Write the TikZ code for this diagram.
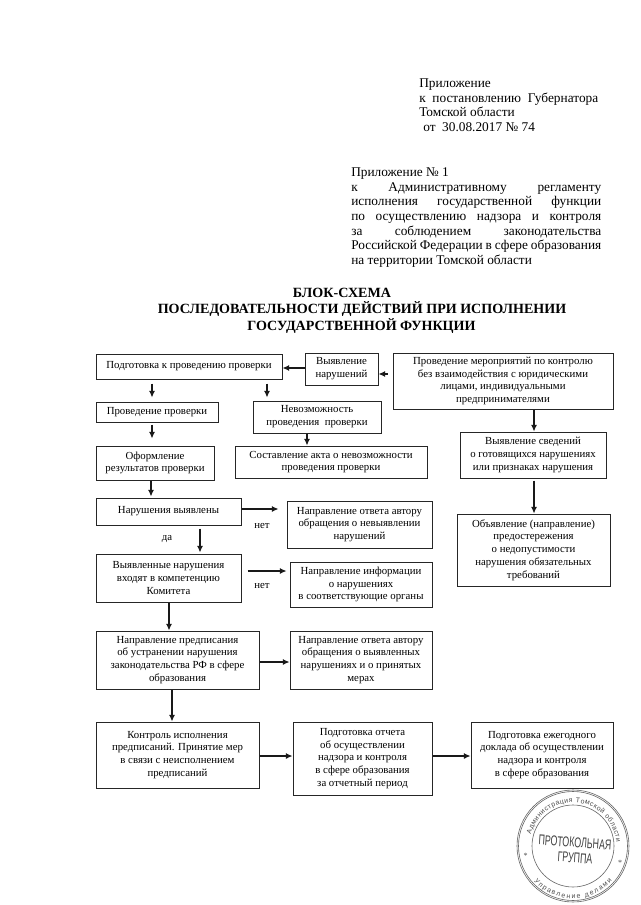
\documentclass[tikz,border=0pt]{standalone}
\usepackage{fontspec}
\usepackage{graphicx}
\setmainfont{Liberation Serif}
\setsansfont{Liberation Sans}
\usetikzlibrary{arrows.meta,decorations.text}
\tikzset{
  x=0.75pt,y=-0.75pt,
  flowbox/.style n args={2}{draw=black!85,line width=0.75pt,align=center,inner sep=0pt,
    minimum width=#1*0.75pt,minimum height=#2*0.75pt,
    font=\fontsize{8.1}{9.6}\selectfont},
  arr/.style={draw=black!90,line width=0.8pt,-{Latex[length=5pt,width=4.5pt]}},
  lbl/.style={inner sep=0pt,font=\fontsize{8.1}{9.6}\selectfont},
  head/.style={inner sep=0pt,anchor=base west,font=\fontsize{10}{12}\selectfont},
  just/.style={inner sep=0pt,anchor=base west,text width=250*0.75pt,font=\fontsize{10}{12}\selectfont},
  ttl/.style={inner sep=0pt,font=\bfseries\fontsize{10.55}{13}\selectfont},
  stampline/.style={draw=black!60,line width=0.45pt}
}
\begin{document}
\begin{tikzpicture}
\useasboundingbox[fill=white] (0,0) rectangle (640,905);
% header
\node[head] (h1) at (419,88) {Приложение};
\node[head] (h2) at (419,103) {к\ \ постановлению\ \ Губернатора};
\node[head] (h3) at (419,117) {Томской области};
\node[head] (h4) at (423,132) {от\ \ 30.08.2017 № 74};
\node[head] (a0) at (351,177) {Приложение № 1};
\node[just] (a1) at (351,192) {к\hfill Административному\hfill регламенту};
\node[just] (a2) at (351,206) {исполнения\hfill государственной\hfill функции};
\node[just] (a3) at (351,221) {по\hfill осуществлению\hfill надзора\hfill и\hfill контроля};
\node[just] (a4) at (351,236) {за\hfill соблюдением\hfill законодательства};
\node[just] (a5) at (351,250) {Российской\hfill Федерации\hfill в\hfill сфере\hfill образования};
\node[head] (a6) at (351,265) {на территории Томской области};
% title
\node[ttl] (t1) at (342,293) {БЛОК-СХЕМА};
\node[ttl] (t2) at (362,309.5) {ПОСЛЕДОВАТЕЛЬНОСТИ ДЕЙСТВИЙ ПРИ ИСПОЛНЕНИИ};
\node[ttl] (t3) at (361.5,326) {ГОСУДАРСТВЕННОЙ ФУНКЦИИ};
% boxes
\node[flowbox={186}{25}] (podg) at (189,366.5) {Подготовка к проведению проверки};
\node[flowbox={73}{32}] (vyav) at (341.5,369) {Выявление\\нарушений};
\node[flowbox={220}{56}] (mer) at (503,381) {Проведение мероприятий по контролю\\без взаимодействия с юридическими\\лицами, индивидуальными\\предпринимателями};
\node[flowbox={122}{20}] (prov) at (157,412) {Проведение проверки};
\node[flowbox={128}{32}] (nevoz) at (317,417) {Невозможность\\проведения\ \ проверки};
\node[flowbox={118}{34}] (oform) at (155,463) {Оформление\\результатов проверки};
\node[flowbox={192}{32}] (sost) at (331,462) {Составление акта о невозможности\\проведения проверки};
\node[flowbox={145}{27}] (nar) at (168.5,511.5) {\raisebox{2pt}{Нарушения выявлены}};
\node[flowbox={145}{47}] (otv1) at (359.5,524.5) {Направление ответа автору\\обращения о невыявлении\\нарушений};
\node[flowbox={145}{48}] (vyavl) at (168.5,578) {Выявленные нарушения\\входят в компетенцию\\Комитета};
\node[flowbox={142}{45}] (inf) at (361,584.5) {Направление информации\\о нарушениях\\в соответствующие органы};
\node[flowbox={163}{58}] (pred) at (177.5,660) {Направление предписания\\об устранении нарушения\\законодательства РФ в сфере\\образования};
\node[flowbox={142}{58}] (otv2) at (361,660) {Направление ответа автору\\обращения о выявленных\\нарушениях и о принятых\\мерах};
\node[flowbox={163}{66}] (kontr) at (177.5,755) {Контроль исполнения\\предписаний. Принятие мер\\в связи с неисполнением\\предписаний};
\node[flowbox={139}{73}] (otch) at (362.5,758.5) {Подготовка отчета\\об осуществлении\\надзора и контроля\\в сфере образования\\за отчетный период};
\node[flowbox={142}{66}] (ezh) at (542,755) {Подготовка ежегодного\\доклада об осуществлении\\надзора и контроля\\в сфере образования};
\node[flowbox={146}{46}] (sved) at (533,455) {Выявление сведений\\о готовящихся нарушениях\\или признаках нарушения};
\node[flowbox={153}{72}] (obv) at (533.5,550) {Объявление (направление)\\предостережения\\о недопустимости\\нарушения обязательных\\требований};
% labels
\node[lbl] (n1) at (262,526) {нет};
\node[lbl] (d1) at (167,539) {да};
\node[lbl] (n2) at (262,586) {нет};
% connectors
\draw[arr] ([shift={(0,-1)}]vyav.west) -- ([shift={(0,1.5)}]podg.east);
\draw[arr] ([shift={(-5,-7)}]mer.west) -- ([shift={(0,5)}]vyav.east);
\draw[arr] ([shift={(-37,4)}]podg.south) -- ([shift={(-5,-4)}]prov.north);
\draw[arr] ([shift={(78,4)}]podg.south) -- ([shift={(-50,-3)}]nevoz.north);
\draw[arr] ([shift={(-5,2)}]prov.south) -- ([shift={(-3,-7)}]oform.north);
\draw[arr] ([shift={(-10,0)}]nevoz.south) -- ([shift={(-24,0)}]sost.north);
\draw[arr] ([shift={(-4,0)}]oform.south) -- ([shift={(-17.5,-1)}]nar.north);
\draw[arr] ([shift={(0,-2.5)}]nar.east) -- ([shift={(-8,-15.5)}]otv1.west);
\draw[arr] ([shift={(31.5,3)}]nar.south) -- ([shift={(31.5,-1)}]vyavl.north);
\draw[arr] ([shift={(6,-7)}]vyavl.east) -- ([shift={(-3,-13.5)}]inf.west);
\draw[arr] ([shift={(0.5,0)}]vyavl.south) -- ([shift={(-8.5,0)}]pred.north);
\draw[arr] ([shift={(0,2)}]pred.east) -- ([shift={(0,2)}]otv2.west);
\draw[arr] ([shift={(-5.5,0)}]pred.south) -- ([shift={(-5.5,0)}]kontr.north);
\draw[arr] ([shift={(0,1)}]kontr.east) -- ([shift={(0,-2.5)}]otch.west);
\draw[arr] ([shift={(0,-2.5)}]otch.east) -- ([shift={(0,1)}]ezh.west);
\draw[arr] ([shift={(31,0)}]mer.south) -- ([shift={(1,0)}]sved.north);
\draw[arr] ([shift={(1,2)}]sved.south) -- ([shift={(0.5,0)}]obv.north);
% stamp
\begin{scope}[shift={(573,846)},x=0.75pt,y=0.75pt,black!65]
  \draw[stampline] (0,0) circle (56);
  \draw[stampline] (0,0) circle (54.5);
  \draw[stampline] (0,0) circle (41);
  \path[postaction={decorate,decoration={text along path,text align={fit to path},raise=0pt,
    text={|\sffamily\fontsize{5.2}{6}\selectfont\color{black!70}|Администрация Томской области}}}]
    (165:43.5) arc[start angle=165,end angle=5,radius=43.5];
  \path[postaction={decorate,decoration={text along path,text align={fit to path},raise=0pt,
    text={|\sffamily\fontsize{5.2}{6}\selectfont\color{black!70}|Управление делами}}}]
    (222:52.5) arc[start angle=222,end angle=318,radius=52.5];
  \node[inner sep=0pt,rotate=-4,text=black!75,font=\sffamily\fontsize{8.5}{9}\selectfont] (st1) at (2,3.5) {\scalebox{0.78}[1.25]{ПРОТОКОЛЬНАЯ}};
  \node[inner sep=0pt,rotate=-4,text=black!75,font=\sffamily\fontsize{8.5}{9}\selectfont] (st2) at (2,-12) {\scalebox{0.78}[1.25]{ГРУППА}};
  \node[inner sep=0pt,text=black!70,font=\fontsize{6}{6}\selectfont] (s1) at (-47.5,-10) {*};
  \node[inner sep=0pt,text=black!70,font=\fontsize{6}{6}\selectfont] (s2) at (47,-17) {*};
\end{scope}
\end{tikzpicture}
\end{document}
